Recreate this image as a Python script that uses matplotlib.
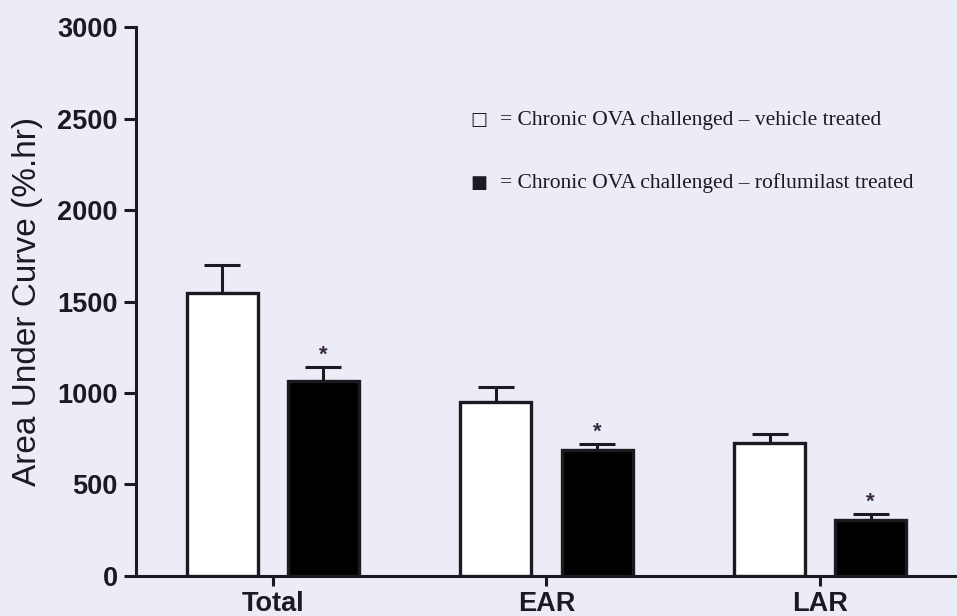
import matplotlib.pyplot as plt
import numpy as np

groups = ["Total", "EAR", "LAR"]
vehicle = [1545, 950, 725]
vehicle_sem = [152, 82, 50]
roflumilast = [1065, 688, 305]
roflumilast_sem = [76, 33, 33]
legend_labels = ["= Chronic OVA challenged \u2013 vehicle treated",
                 "= Chronic OVA challenged \u2013 roflumilast treated"]

bg = "#ECECF6"
ink = "#1c1a20"

fig = plt.figure(figsize=(9.57, 6.16), dpi=100, facecolor=bg)
ax = fig.add_axes([0.142, 0.065, 0.858, 0.891], facecolor=bg)

x = np.arange(len(groups))
w = 0.26
off = 0.185
err_kw = dict(ecolor=ink, elinewidth=2.2, capsize=13, capthick=2.2)

ax.bar(x - off, vehicle, w, color="white", edgecolor=ink, linewidth=2.4, zorder=2)
ax.errorbar(x - off, vehicle, yerr=[np.zeros(3), vehicle_sem], fmt="none", zorder=1, **err_kw)
ax.bar(x + off, roflumilast, w, color="black", edgecolor=ink, linewidth=2.4, zorder=2)
ax.errorbar(x + off, roflumilast, yerr=[np.zeros(3), roflumilast_sem], fmt="none", zorder=1, **err_kw)

# significance stars over roflumilast bars
for xi, v, e in zip(x + off, roflumilast, roflumilast_sem):
    ax.text(xi, v + e + 8, "*", ha="center", va="bottom", fontsize=16,
            color="#3a2a40", family="Liberation Sans", fontweight="bold")

ax.set_xlim(-0.5, 2.5)
ax.set_ylim(0, 3000)
ax.set_yticks(range(0, 3001, 500))
ax.set_xticks(x)
ax.set_xticklabels(groups)

for s in ["top", "right"]:
    ax.spines[s].set_visible(False)
for s in ["left", "bottom"]:
    ax.spines[s].set_linewidth(2.2)
    ax.spines[s].set_color(ink)

ax.tick_params(axis="y", length=9, width=2.2, color=ink, pad=4)
ax.tick_params(axis="x", length=7, width=2.2, color=ink, pad=3.5)
for lab in ax.get_yticklabels() + ax.get_xticklabels():
    lab.set_fontfamily("Liberation Sans")
    lab.set_fontweight("bold")
    lab.set_fontsize(19.5)
    lab.set_color(ink)

ax.set_ylabel("Area Under Curve (%.hr)", fontsize=24, family="Liberation Sans",
              color=ink, labelpad=10)

fam = ["Liberation Serif", "DejaVu Sans"]
ax.text(0.418, 0.8306, "\u25a1", transform=ax.transAxes, fontsize=13, family=["DejaVu Sans"],
        va="center", ha="center", color=ink)
ax.text(0.443, 0.8306, legend_labels[0], transform=ax.transAxes, fontsize=15.5, family=fam,
        va="center", color=ink)
ax.text(0.418, 0.7158, "\u25a0", transform=ax.transAxes, fontsize=13, family=["DejaVu Sans"],
        va="center", ha="center", color=ink)
ax.text(0.443, 0.7158, legend_labels[1], transform=ax.transAxes, fontsize=15.5, family=fam,
        va="center", color=ink)

fig.savefig("out.png", dpi=100, facecolor=bg)
